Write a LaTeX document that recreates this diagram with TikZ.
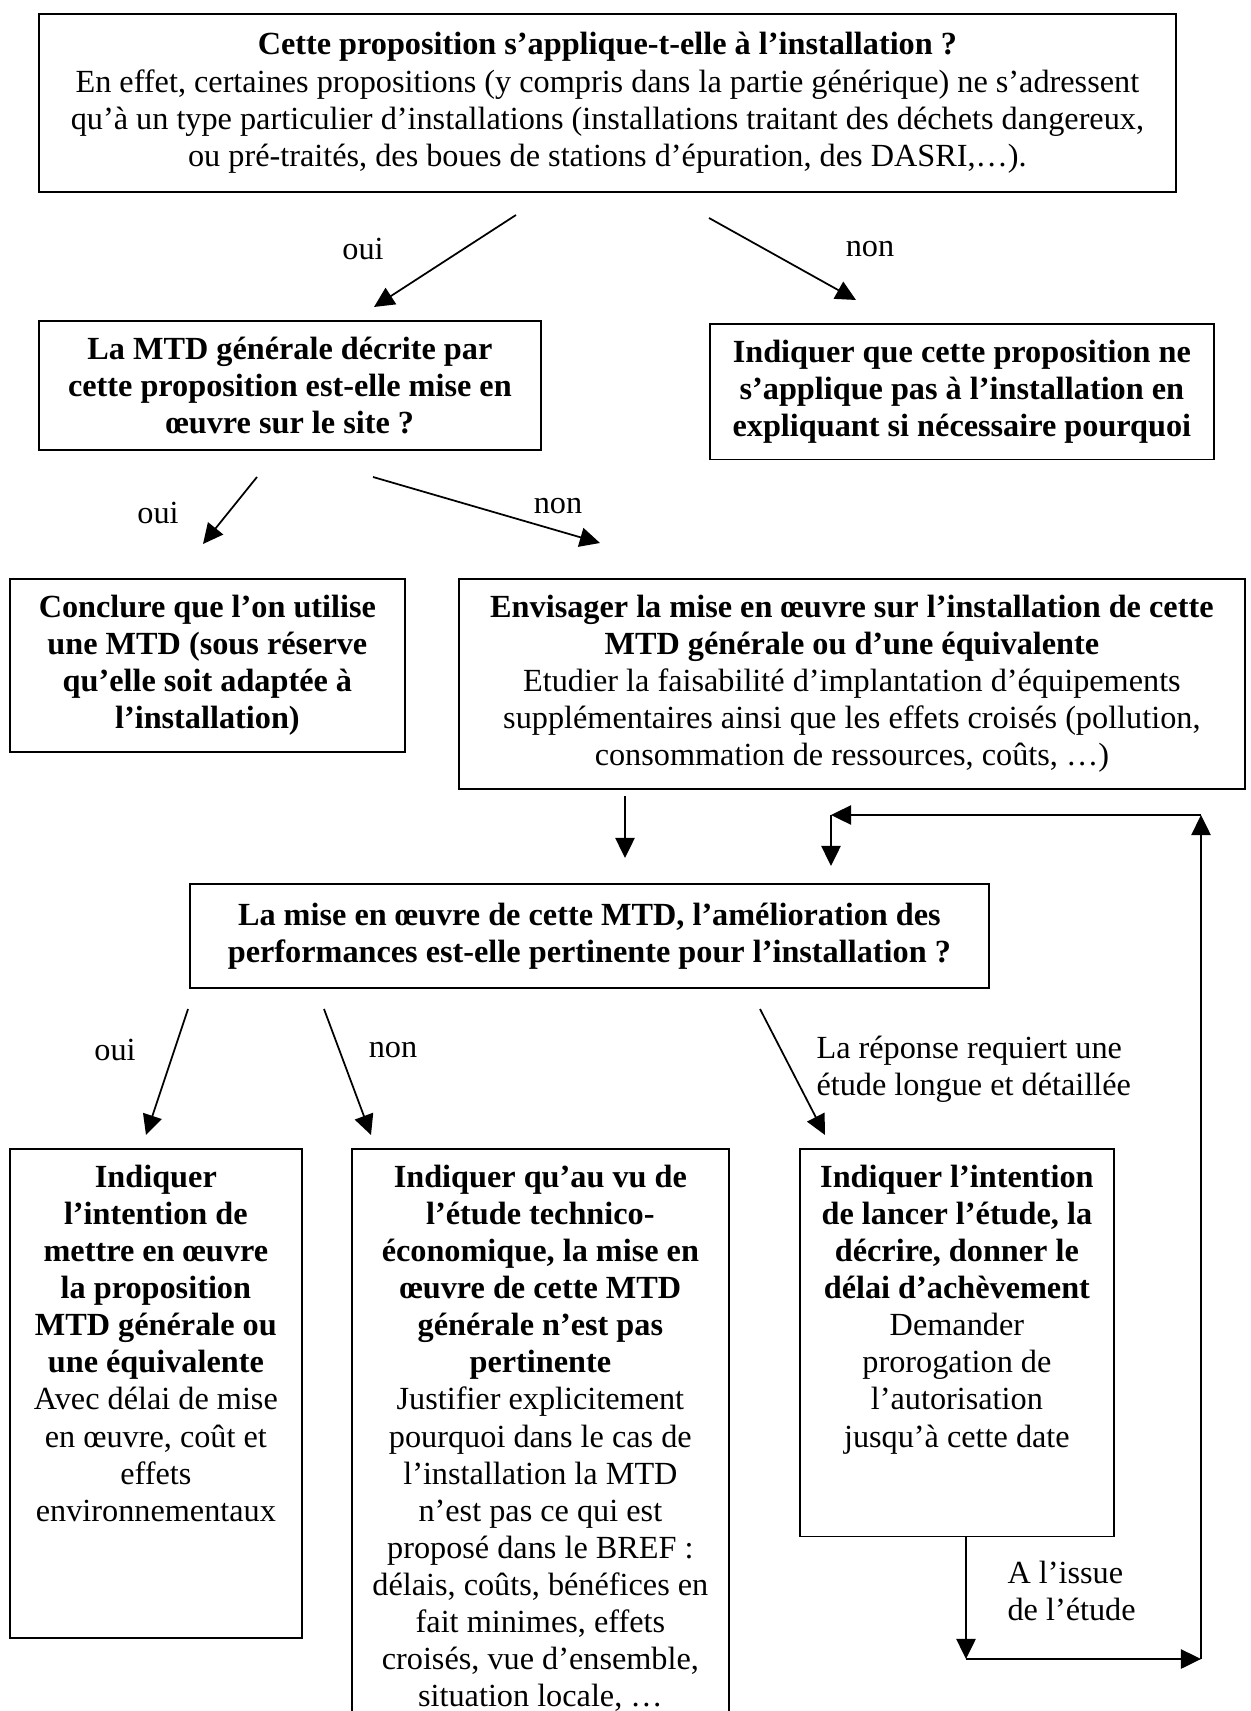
\documentclass[tikz,border=0pt]{standalone}
\usepackage{fontspec}
\setmainfont{Liberation Serif}
\usetikzlibrary{arrows.meta}
\newcommand{\unitpx}{0.372pt}
\newcommand{\bodyfont}{\fontsize{12}{13.8}\selectfont}
\tikzset{
 box/.style={draw, line width=0.65pt, align=center, inner xsep=2pt, inner ysep=6pt, anchor=north west, font=\bodyfont},
 boldbox/.style={box, font=\bodyfont\bfseries},
 arr/.style={line width=0.65pt, -{Triangle[length=7.5pt,width=7.2pt]}},
 lbl/.style={inner sep=0pt, font=\bodyfont},
}

\begin{document}
\begin{tikzpicture}[x=\unitpx, y=-\unitpx]
 \useasboundingbox (0,0) rectangle (1250,1711);

 % questions et reponses
 \node[box, minimum width=1137*\unitpx, minimum height=178*\unitpx] (appl) at (38,13)
  {\textbf{Cette proposition s’applique-t-elle à l’installation ?}\\
   En effet, certaines propositions (y compris dans la partie générique) ne s’adressent\\
   qu’à un type particulier d’installations (installations traitant des déchets dangereux,\\
   ou pré-traités, des boues de stations d’épuration, des DASRI,…).};
 \node[boldbox, minimum width=502*\unitpx, minimum height=125*\unitpx] (mtd) at (38,320)
  {La MTD générale décrite par\\ cette proposition est-elle mise en\\ œuvre sur le site ?};
 \node[boldbox, minimum width=504*\unitpx, minimum height=135*\unitpx] (nonapp) at (709,323)
  {Indiquer que cette proposition ne\\ s’applique pas à l’installation en\\ expliquant si nécessaire pourquoi};
 \node[boldbox, minimum width=395*\unitpx, minimum height=171*\unitpx] (conclure) at (9,578)
  {Conclure que l’on utilise\\ une MTD (sous réserve\\ qu’elle soit adaptée à\\ l’installation)};
 \node[box, minimum width=786*\unitpx, minimum height=203*\unitpx] (envisager) at (458,578)
  {\textbf{Envisager la mise en œuvre sur l’installation de cette}\\
   \textbf{MTD générale ou d’une équivalente}\\
   Etudier la faisabilité d’implantation d’équipements\\
   supplémentaires ainsi que les effets croisés (pollution,\\
   consommation de ressources, coûts, …)};
 \node[boldbox, minimum width=799*\unitpx, minimum height=104*\unitpx] (pertinent) at (189,883)
  {La mise en œuvre de cette MTD, l’amélioration des\\ performances est-elle pertinente pour l’installation ?};
 \node[box, minimum width=292*\unitpx, text depth=37.5pt] (mettre) at (9,1148)
  {\textbf{Indiquer}\\ \textbf{l’intention de}\\ \textbf{mettre en œuvre}\\ \textbf{la proposition}\\
   \textbf{MTD générale ou}\\ \textbf{une équivalente}\\
   Avec délai de mise\\ en œuvre, coût et\\ effets\\ environnementaux};
 \node[box, minimum width=377*\unitpx] (paspert) at (351,1148)
  {\textbf{Indiquer qu’au vu de}\\ \textbf{l’étude technico-}\\ \textbf{économique, la mise en}\\
   \textbf{œuvre de cette MTD}\\ \textbf{générale n’est pas}\\ \textbf{pertinente}\\
   Justifier explicitement\\ pourquoi dans le cas de\\ l’installation la MTD\\ n’est pas ce qui est\\
   proposé dans le BREF :\\ délais, coûts, bénéfices en\\ fait minimes, effets\\
   croisés, vue d’ensemble,\\ situation locale, …};
 \node[box, minimum width=314*\unitpx, text depth=27.3pt] (lancer) at (799,1148)
  {\textbf{Indiquer l’intention}\\ \textbf{de lancer l’étude, la}\\ \textbf{décrire, donner le}\\
   \textbf{délai d’achèvement}\\
   Demander\\ prorogation de\\ l’autorisation\\ jusqu’à cette date};

 % etiquettes
 \node[lbl] (oui1) at (363,249) {oui};
 \node[lbl] (non1) at (870,249) {non};
 \node[lbl] (oui2) at (158,513) {oui};
 \node[lbl] (non2) at (558,506) {non};
 \node[lbl] (oui3) at (115,1050) {oui};
 \node[lbl] (non3) at (393,1050) {non};
 \node[lbl, anchor=west, align=left] (longue) at (816,1069) {La réponse requiert une\\ étude longue et détaillée};
 \node[lbl, anchor=west, align=left] (issue) at (1007,1591) {A l’issue\\ de l’étude};

 % fleches
 \coordinate (oui1a) at (516,215);  \coordinate (oui1b) at (374,307);
 \coordinate (non1a) at (709,218);  \coordinate (non1b) at (856,300);
 \coordinate (oui2a) at (257,477);  \coordinate (oui2b) at (203,544);
 \coordinate (non2a) at (373,477);  \coordinate (non2b) at (600,543);
 \coordinate (basa) at (625,796);   \coordinate (basb) at (625,858);
 \coordinate (oui3a) at (188,1009); \coordinate (oui3b) at (146,1135);
 \coordinate (non3a) at (324,1009); \coordinate (non3b) at (371,1135);
 \coordinate (longa) at (760,1009); \coordinate (longb) at (825,1135);
 \coordinate (retA) at (966,1659);  \coordinate (retB) at (1201,1659);
 \coordinate (retC) at (1201,815);
 \coordinate (retD) at (831,815);   \coordinate (retE) at (831,866);

 \draw[arr] (oui1a) -- (oui1b);
 \draw[arr] (non1a) -- (non1b);
 \draw[arr] (oui2a) -- (oui2b);
 \draw[arr] (non2a) -- (non2b);
 \draw[arr] (basa) -- (basb);
 \draw[arr] (oui3a) -- (oui3b);
 \draw[arr] (non3a) -- (non3b);
 \draw[arr] (longa) -- (longb);
 % boucle de retour
 \draw[arr] (lancer.south -| retA) -- (retA);
 \draw[arr] (retA) -- (retB);
 \draw[arr] (retB) -- (retC);
 \draw[arr] (retC) -- (retD);
 \draw[arr] (retD) -- (retE);
\end{tikzpicture}
\end{document}
